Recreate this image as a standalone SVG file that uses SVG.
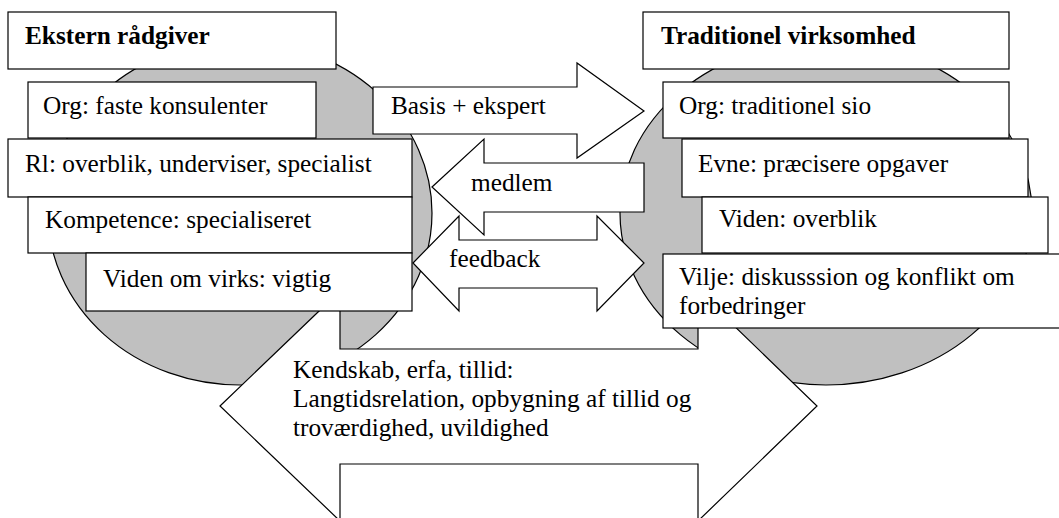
<svg xmlns="http://www.w3.org/2000/svg" width="1059" height="518" viewBox="0 0 1059 518" font-family="'Liberation Serif', 'Times New Roman', Times, serif">
  <style>
    .box { fill: #ffffff; stroke: #000000; stroke-width: 1.2; }
    .blob { fill: #c0c0c0; stroke: #000000; stroke-width: 1.2; }
    .arrow { fill: #ffffff; stroke: #000000; stroke-width: 1.2; stroke-linejoin: miter; }
    text { font-family: 'Liberation Serif', 'Times New Roman', Times, serif; font-size: 25.3px; fill: #000000; }
    .title { font-weight: bold; }
  </style>
  <rect width="1059" height="518" fill="#ffffff"/>

  <!-- grey background discs behind each party -->
  <g id="disc-left"><ellipse class="blob" cx="240" cy="213" rx="192" ry="172"/></g>
  <g id="disc-right"><ellipse class="blob" cx="826" cy="213" rx="206" ry="172"/></g>

  <!-- block arrows between the two parties -->
  <g id="connectors">
    <g id="arrow-relation">
      <polygon class="arrow" points="220,406 340,291 340,349 698,349 698,291 817,406 698,521 698,464 340,464 340,521"/>
      <text x="293" y="378">Kendskab, erfa, tillid:</text>
      <text x="293" y="407">Langtidsrelation, opbygning af tillid og</text>
      <text x="293" y="436">troværdighed, uvildighed</text>
    </g>
    <g id="arrow-basis">
      <polygon class="arrow" points="373,87 577,87 577,63 644,111 577,158 577,134 373,134"/>
      <text x="391" y="114">Basis + ekspert</text>
    </g>
    <g id="arrow-medlem">
      <polygon class="arrow" points="432,187 484,139 484,163 644,163 644,212 484,212 484,235"/>
      <text x="471" y="191">medlem</text>
    </g>
    <g id="arrow-feedback">
      <polygon class="arrow" points="413,263 459,216 459,240 597,240 597,216 644,263 597,311 597,288 459,288 459,311"/>
      <text x="449" y="267">feedback</text>
    </g>
  </g>

  <!-- left party -->
  <g id="ekstern-raadgiver">
    <rect class="box" x="8" y="12" width="328" height="57"/>
    <text class="title" x="25" y="44">Ekstern rådgiver</text>
  </g>
  <g id="left-org">
    <rect class="box" x="28" y="82" width="288" height="56"/>
    <text x="43" y="114">Org: faste konsulenter</text>
  </g>
  <g id="left-rolle">
    <rect class="box" x="8" y="139" width="404" height="58"/>
    <text x="25" y="172">Rl: overblik, underviser, specialist</text>
  </g>
  <g id="left-kompetence">
    <rect class="box" x="28" y="197" width="384" height="56"/>
    <text x="45" y="228">Kompetence: specialiseret</text>
  </g>
  <g id="left-viden">
    <rect class="box" x="86" y="253" width="326" height="58"/>
    <text x="103" y="287">Viden om virks: vigtig</text>
  </g>

  <!-- right party -->
  <g id="traditionel-virksomhed">
    <rect class="box" x="643" y="12" width="366" height="57"/>
    <text class="title" x="661" y="44">Traditionel virksomhed</text>
  </g>
  <g id="right-org">
    <rect class="box" x="663" y="82" width="346" height="56"/>
    <text x="679" y="114">Org: traditionel sio</text>
  </g>
  <g id="right-evne">
    <rect class="box" x="682" y="139" width="346" height="58"/>
    <text x="698" y="172">Evne: præcisere opgaver</text>
  </g>
  <g id="right-viden">
    <rect class="box" x="702" y="197" width="346" height="56"/>
    <text x="719" y="227">Viden: overblik</text>
  </g>
  <g id="right-vilje">
    <rect class="box" x="663" y="254" width="410" height="74"/>
    <text x="679" y="285">Vilje: diskusssion og konflikt om</text>
    <text x="679" y="314">forbedringer</text>
  </g>
</svg>
